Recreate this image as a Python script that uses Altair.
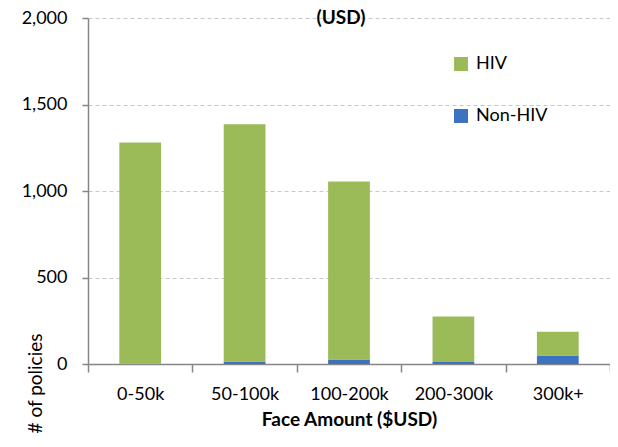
import altair as alt
import pandas as pd

categories = ["0-50k", "50-100k", "100-200k", "200-300k", "300k+"]
hiv = [1279, 1372, 1029, 264, 138]
non_hiv = [2, 14, 26, 11, 49]
series = ["HIV", "Non-HIV"]
colors = ["#9BBB59", "#3D72C0"]
title_text = ["(USD)"]

rows = []
for c, h, n in zip(categories, hiv, non_hiv):
    rows.append({"cat": c, "series": "Non-HIV", "value": n, "ord": 0})
    rows.append({"cat": c, "series": "HIV", "value": h, "ord": 1})
df = pd.DataFrame(rows)

FONT = "Lato"

bars = alt.Chart(df).mark_bar(width={"band": 0.4}).encode(
    x=alt.X("cat:N", sort=categories,
            scale=alt.Scale(paddingInner=0, paddingOuter=0),
            axis=alt.Axis(title="Face Amount ($USD)", labelAngle=0, tickBand="extent",
                          grid=False, tickSize=8, labelPadding=13,
                          titleFontWeight="bold", titleFontSize=19, titlePadding=7)),
    y=alt.Y("value:Q", stack="zero",
            scale=alt.Scale(domain=[0, 2000], nice=False),
            axis=alt.Axis(title="# of policies", values=[0, 500, 1000, 1500, 2000],
                          format=",d", tickSize=6, labelPadding=15,
                          gridDash=[4, 3], gridColor="#C8C8C8", gridWidth=1.2,
                          titleFontWeight="normal", titleFontSize=19,
                          titleAngle=270, titleAlign="center", titleBaseline="alphabetic",
                          titleX=-47, titleY=365)),
    color=alt.Color("series:N", scale=alt.Scale(domain=series, range=colors),
                    legend=alt.Legend(title=None, orient="none", legendX=364, legendY=37,
                                      symbolType="square", symbolSize=196,
                                      symbolStrokeWidth=0, labelFontSize=18,
                                      labelFont=FONT, labelOffset=6, rowPadding=34,
                                      padding=0, labelColor="#000000")),
    order=alt.Order("ord:Q"),
)

title = alt.Chart(pd.DataFrame({"t": title_text})).mark_text(
    font=FONT, fontSize=19, fontWeight="bold", color="#000000",
    align="center", baseline="alphabetic",
).encode(text="t:N", x=alt.value(253), y=alt.value(6))

chart = alt.layer(bars, title).properties(
    width=522, height=346,
    padding={"left": 80, "top": 10, "right": 0, "bottom": 75},
    autosize=alt.AutoSizeParams(type="none"),
).configure_axis(
    labelFont=FONT, titleFont=FONT, labelFontSize=18, labelColor="#000000",
    titleColor="#000000", domainColor="#868686", tickColor="#868686",
    domainWidth=1.5, tickWidth=1.5,
).configure_view(stroke=None)

chart.save("out.html", embed_options={"renderer": "svg", "actions": False})
